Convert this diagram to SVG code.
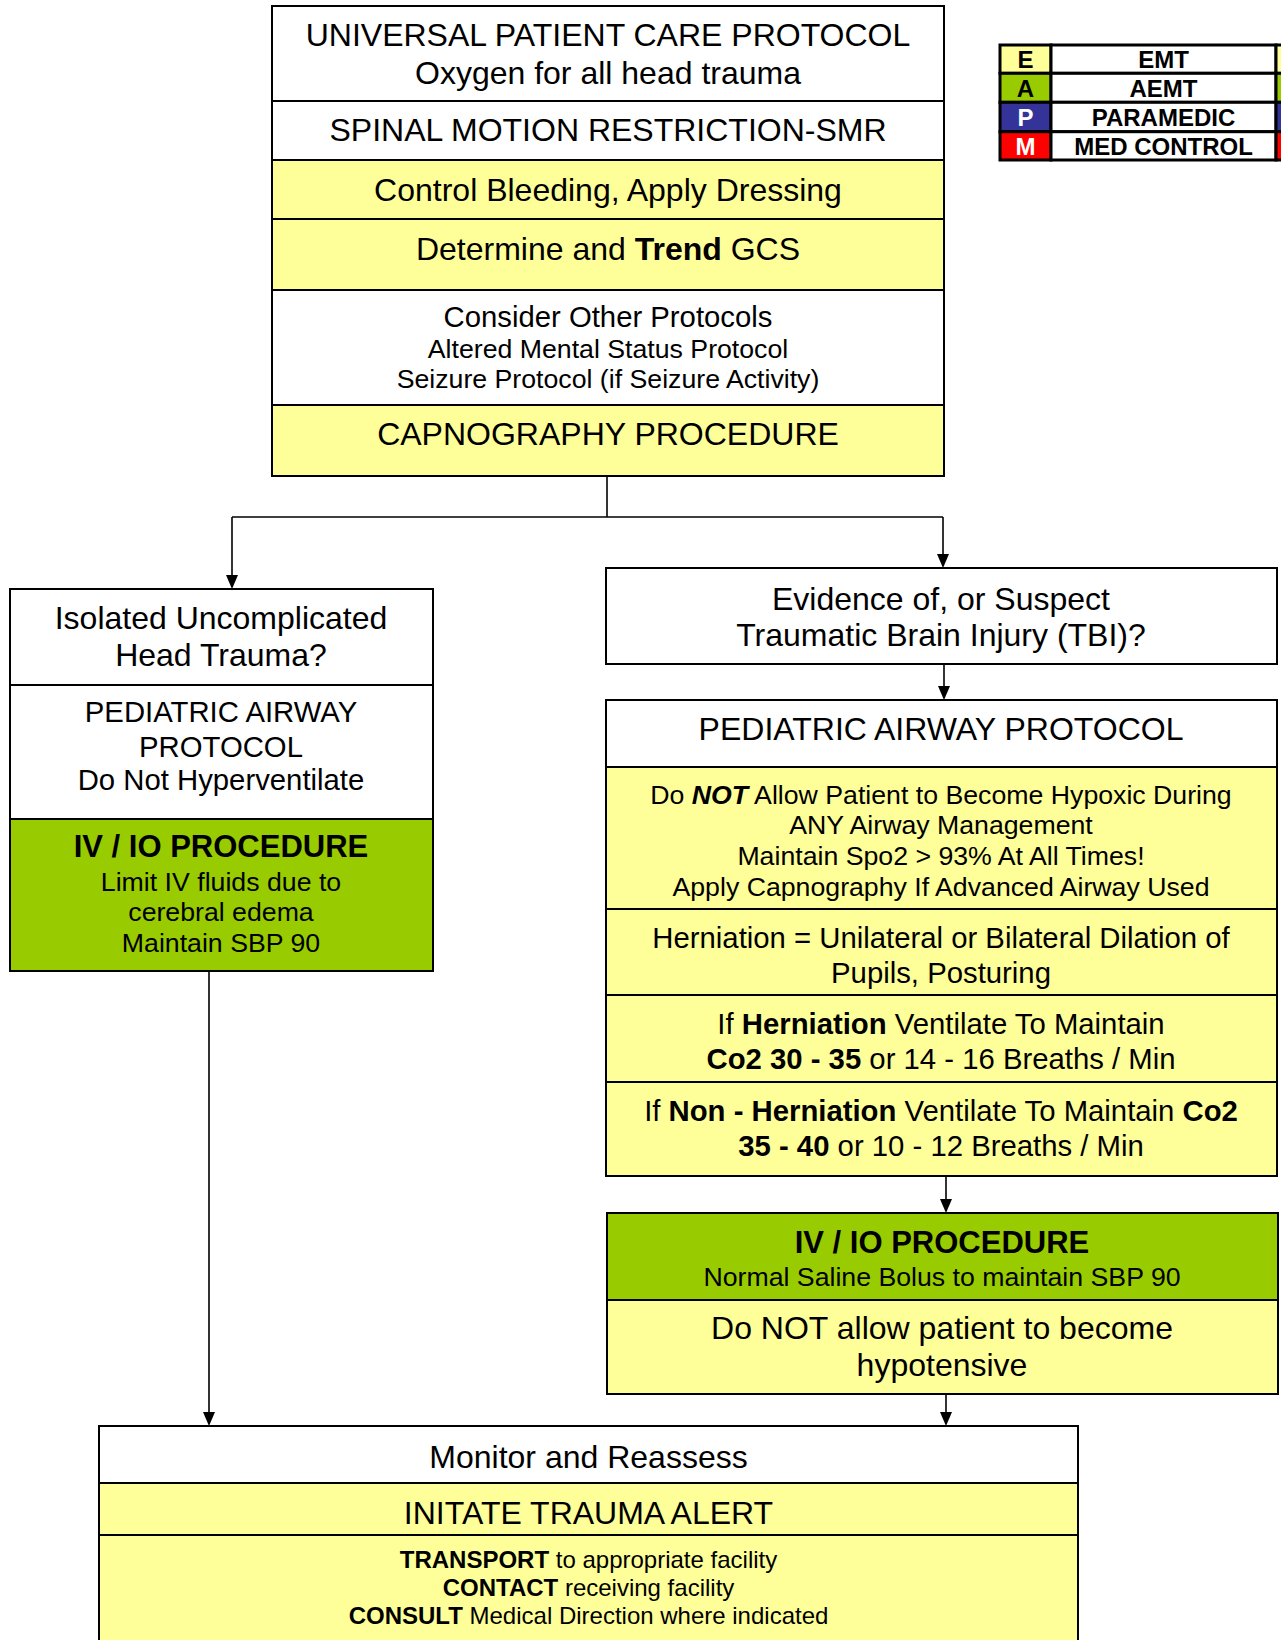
<svg xmlns="http://www.w3.org/2000/svg" width="1281" height="1640" viewBox="0 0 1281 1640">
<style>
text{font-family:"Liberation Sans",Arial,sans-serif;fill:#000;text-anchor:middle}
.box{stroke:#000;stroke-width:2}
.w{fill:#fff}.y{fill:#ffff99}.g{fill:#99cc00}.bl{fill:#333399}.r{fill:#ff0000}
.t32{font-size:32px}.t29{font-size:29.3px}.t27{font-size:26.7px}.t24{font-size:24px}
.b{font-weight:bold}.bi{font-weight:bold;font-style:italic}
.lg{stroke:#000;stroke-width:3}
.lt{font-size:24px;font-weight:bold}
.conn{stroke:#000;stroke-width:1.6;fill:none}
</style>
<defs>
<marker id="arr" markerWidth="12" markerHeight="14" refX="6" refY="14" orient="auto-start-reverse" markerUnits="userSpaceOnUse" viewBox="0 0 12 14">
<path d="M0,0 L12,0 L6,14 Z" fill="#000" transform="rotate(0)"/>
</marker>
</defs>
<rect width="1281" height="1640" fill="#fff"/>

<g id="connectors">
<path class="conn" d="M607,476 V517"/>
<path class="conn" d="M232,517 H943"/>
<path class="conn" d="M232,517 V575"/>
<path d="M226,575 L238,575 L232,589 Z"/>
<path class="conn" d="M943,517 V554"/>
<path d="M937,554 L949,554 L943,568 Z"/>
<path class="conn" d="M944,664 V686"/>
<path d="M938,686 L950,686 L944,700 Z"/>
<path class="conn" d="M946,1176 V1199"/>
<path d="M940,1199 L952,1199 L946,1213 Z"/>
<path class="conn" d="M946,1394 V1412"/>
<path d="M940,1412 L952,1412 L946,1426 Z"/>
<path class="conn" d="M209,971 V1412"/>
<path d="M203,1412 L215,1412 L209,1426 Z"/>
</g>

<g id="universal">
<rect class="box w" x="272" y="6" width="672" height="95"/>
<text class="t32" x="608" y="46">UNIVERSAL PATIENT CARE PROTOCOL</text>
<text class="t32" x="608" y="83.5">Oxygen for all head trauma</text>
</g>
<g id="smr">
<rect class="box w" x="272" y="101" width="672" height="59"/>
<text class="t32" x="608" y="141">SPINAL MOTION RESTRICTION-SMR</text>
</g>
<g id="bleeding">
<rect class="box y" x="272" y="160" width="672" height="59"/>
<text class="t32" x="608" y="200.5">Control Bleeding, Apply Dressing</text>
</g>
<g id="gcs">
<rect class="box y" x="272" y="219" width="672" height="71"/>
<text class="t32" x="608" y="260">Determine and <tspan class="b">Trend</tspan> GCS</text>
</g>
<g id="other-protocols">
<rect class="box w" x="272" y="290" width="672" height="115"/>
<text class="t29" x="608" y="327">Consider Other Protocols</text>
<text class="t27" x="608" y="357.6">Altered Mental Status Protocol</text>
<text class="t27" x="608" y="388">Seizure Protocol (if Seizure Activity)</text>
</g>
<g id="capnography">
<rect class="box y" x="272" y="405" width="672" height="71"/>
<text class="t32" x="608" y="445">CAPNOGRAPHY PROCEDURE</text>
</g>

<g id="isolated">
<rect class="box w" x="10" y="589" width="423" height="96"/>
<text class="t32" x="221" y="629.3">Isolated Uncomplicated</text>
<text class="t32" x="221" y="666">Head Trauma?</text>
</g>
<g id="ped-airway-left">
<rect class="box w" x="10" y="685" width="423" height="134"/>
<text class="t29" x="221" y="722.3">PEDIATRIC AIRWAY</text>
<text class="t29" x="221" y="757">PROTOCOL</text>
<text class="t29" x="221" y="790.3">Do Not Hyperventilate</text>
</g>
<g id="iv-left">
<rect class="box g" x="10" y="819" width="423" height="152"/>
<text class="b" style="font-size:31px" x="221" y="857">IV / IO PROCEDURE</text>
<text class="t27" x="221" y="891">Limit IV fluids due to</text>
<text class="t27" x="221" y="921.3">cerebral edema</text>
<text class="t27" x="221" y="951.6">Maintain SBP 90</text>
</g>

<g id="tbi">
<rect class="box w" x="606" y="568" width="671" height="96"/>
<text class="t32" x="941" y="609.5">Evidence of, or Suspect</text>
<text class="t32" x="941" y="646">Traumatic Brain Injury (TBI)?</text>
</g>
<g id="ped-airway-right">
<rect class="box w" x="606" y="700" width="671" height="67"/>
<text class="t32" x="941" y="740">PEDIATRIC AIRWAY PROTOCOL</text>
</g>
<g id="hypoxic">
<rect class="box y" x="606" y="767" width="671" height="142"/>
<text class="t27" x="941" y="804">Do <tspan class="bi">NOT</tspan> Allow Patient to Become Hypoxic During</text>
<text class="t27" x="941" y="834.4">ANY Airway Management</text>
<text class="t27" x="941" y="864.8">Maintain Spo2 &gt; 93% At All Times!</text>
<text class="t27" x="941" y="896.2">Apply Capnography If Advanced Airway Used</text>
</g>
<g id="herniation-def">
<rect class="box y" x="606" y="909" width="671" height="86"/>
<text class="t29" x="941" y="948.3">Herniation = Unilateral or Bilateral Dilation of</text>
<text class="t29" x="941" y="982.8">Pupils, Posturing</text>
</g>
<g id="herniation">
<rect class="box y" x="606" y="995" width="671" height="87"/>
<text class="t29" x="941" y="1034">If <tspan class="b">Herniation</tspan> Ventilate To Maintain</text>
<text class="t29" x="941" y="1068.5"><tspan class="b">Co2 30 - 35</tspan> or 14 - 16 Breaths / Min</text>
</g>
<g id="non-herniation">
<rect class="box y" x="606" y="1082" width="671" height="94"/>
<text class="t29" x="941" y="1120.8">If <tspan class="b">Non - Herniation</tspan> Ventilate To Maintain <tspan class="b">Co2</tspan></text>
<text class="t29" x="941" y="1156.3"><tspan class="b">35 - 40</tspan> or 10 - 12 Breaths / Min</text>
</g>
<g id="iv-right">
<rect class="box g" x="607" y="1213" width="671" height="87"/>
<text class="b" style="font-size:31px" x="942" y="1253">IV / IO PROCEDURE</text>
<text class="t27" x="942" y="1286">Normal Saline Bolus to maintain SBP 90</text>
</g>
<g id="hypotensive">
<rect class="box y" x="607" y="1300" width="671" height="94"/>
<text class="t32" x="942" y="1339.3">Do NOT allow patient to become</text>
<text class="t32" x="942" y="1376">hypotensive</text>
</g>

<g id="monitor">
<rect class="box w" x="99" y="1426" width="979" height="57"/>
<text class="t32" x="588.5" y="1468">Monitor and Reassess</text>
</g>
<g id="trauma-alert">
<rect class="box y" x="99" y="1483" width="979" height="52"/>
<text class="t32" x="588.5" y="1524.4">INITATE TRAUMA ALERT</text>
</g>
<g id="transport">
<rect class="box y" x="99" y="1535" width="979" height="110"/>
<text class="t24" x="588.5" y="1567.6"><tspan class="b">TRANSPORT</tspan> to appropriate facility</text>
<text class="t24" x="588.5" y="1596"><tspan class="b">CONTACT</tspan> receiving facility</text>
<text class="t24" x="588.5" y="1624"><tspan class="b">CONSULT</tspan> Medical Direction where indicated</text>
</g>

<g id="legend">
<rect class="lg y" x="1000" y="45" width="51" height="28.3"/>
<rect class="lg w" x="1051" y="45" width="225" height="28.3"/>
<rect class="lg y" x="1276" y="45" width="10" height="28.3"/>
<rect class="lg g" x="1000" y="73.3" width="51" height="29"/>
<rect class="lg w" x="1051" y="73.3" width="225" height="29"/>
<rect class="lg g" x="1276" y="73.3" width="10" height="29"/>
<rect class="lg bl" x="1000" y="102.3" width="51" height="29.4"/>
<rect class="lg w" x="1051" y="102.3" width="225" height="29.4"/>
<rect class="lg bl" x="1276" y="102.3" width="10" height="29.4"/>
<rect class="lg r" x="1000" y="131.7" width="51" height="28.3"/>
<rect class="lg w" x="1051" y="131.7" width="225" height="28.3"/>
<rect class="lg r" x="1276" y="131.7" width="10" height="28.3"/>
<text class="lt" x="1025.5" y="68">E</text>
<text class="lt" x="1025.5" y="96.5">A</text>
<text class="lt" x="1025.5" y="125.5" style="fill:#fff">P</text>
<text class="lt" x="1025.5" y="154.5" style="fill:#fff">M</text>
<text class="lt" x="1163.5" y="68">EMT</text>
<text class="lt" x="1163.5" y="96.5">AEMT</text>
<text class="lt" x="1163.5" y="125.5">PARAMEDIC</text>
<text class="lt" x="1163.5" y="154.5">MED CONTROL</text>
</g>
</svg>
